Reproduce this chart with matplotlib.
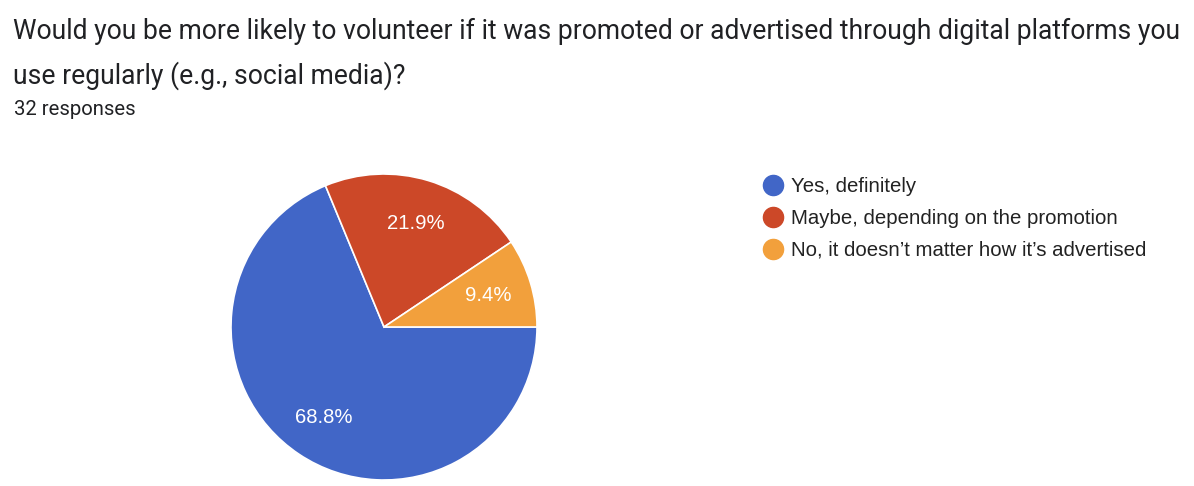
import matplotlib.pyplot as plt
from matplotlib.lines import Line2D

title_lines = ["Would you be more likely to volunteer if it was promoted or advertised through digital platforms you",
               "use regularly (e.g., social media)?"]
subtitle = "32 responses"
categories = ["Yes, definitely", "Maybe, depending on the promotion",
              "No, it doesn\u2019t matter how it\u2019s advertised"]
counts = [22, 7, 3]
colors = ["#4166c7", "#cc4828", "#f2a03c"]

W, H = 1194, 486
fig = plt.figure(figsize=(W / 100, H / 100), dpi=100)
fig.patch.set_facecolor("white")

# title lines + response count
for i, line in enumerate(title_lines):
    fig.text(13 / W, 1 - (31 + 45 * i) / H, line, fontsize=19.1, family="Roboto",
             color="#202124", va="center", ha="left")
fig.text(14 / W, 1 - 109 / H, subtitle, fontsize=14.6, family="Roboto", color="#202124",
         va="center", ha="left")

ax = fig.add_axes([231 / W, 6 / H, 306 / W, 306 / H])
wedges, texts, autotexts = ax.pie(
    counts, colors=colors, startangle=0, counterclock=False,
    autopct="%1.1f%%", pctdistance=0.71,
    wedgeprops=dict(edgecolor="white", linewidth=1.2),
    textprops=dict(color="white", fontsize=14.6, family="Liberation Sans"))
ax.set_xlim(-1, 1)
ax.set_ylim(-1, 1)
ax.set_aspect("equal")

handles = [Line2D([0], [0], marker="o", linestyle="", markersize=14.5,
                  markerfacecolor=c, markeredgecolor=c) for c in colors]
fig.legend(handles, categories, loc="upper left",
           bbox_to_anchor=(747 / W, 1 - 167 / H), frameon=False,
           prop=dict(family="Liberation Sans", size=14.7), labelcolor="#222222",
           handletextpad=0.15, labelspacing=0.63, borderpad=0, handlelength=1.5)

fig.savefig("out.png", dpi=100, facecolor="white")
